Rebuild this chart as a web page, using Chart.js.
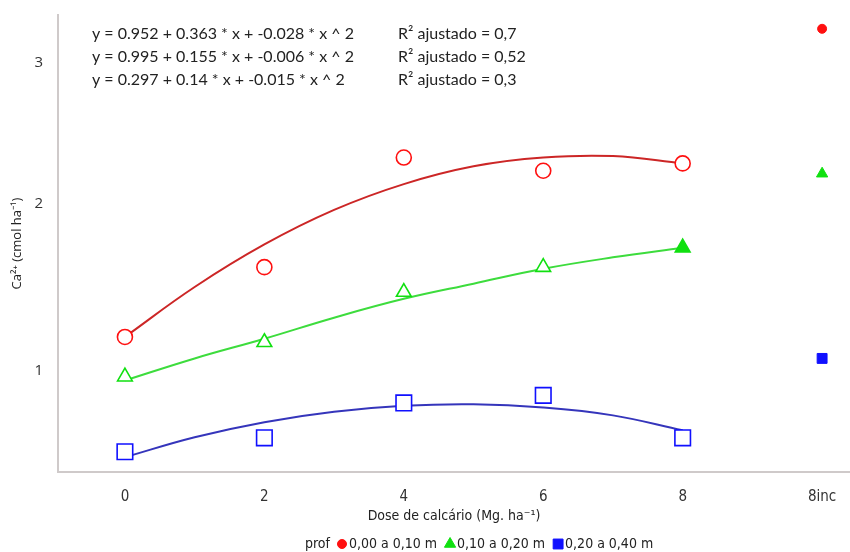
<!DOCTYPE html>
<html>
<head>
<meta charset="utf-8">
<script src="https://cdn.jsdelivr.net/npm/chart.js@4/dist/chart.umd.min.js"></script>
<style>
  html, body { margin: 0; padding: 0; background: #fff; overflow: hidden; }
  #wrap { position: relative; width: 850px; height: 552px; }
  #caChart { display: block; }
</style>
</head>
<body>
<div id="wrap"><canvas id="caChart"></canvas></div>
<script>
// === DATA ===
const doses = [0, 2, 4, 6, 8];
const incPos = 10; // where "8inc" sits on the x axis
const tickVals = [0, 2, 4, 6, 8, 10];
const tickNames = ['0', '2', '4', '6', '8', '8inc'];
const yTicks = [1, 2, 3];

const ca010 = [1.19, 1.60, 2.31, 2.22, 2.27];
const ca1020 = [0.97, 1.16, 1.45, 1.60, 1.72];
const ca2040 = [0.58, 0.65, 0.83, 0.87, 0.65];
const caInc = [3.26, 2.20, 1.07]; // 0-10, 10-20, 20-40 for 8inc

// fitted curves
const fitX = [0, 1, 2, 3, 4, 5, 6, 7, 8];
const fit010 = [1.19, 1.48, 1.74, 1.96, 2.13, 2.25, 2.31, 2.32, 2.27];
const fit1020 = [0.95, 1.07, 1.18, 1.30, 1.41, 1.50, 1.59, 1.66, 1.72];
const fit2040 = [0.553, 0.653, 0.730, 0.784, 0.815, 0.823, 0.806, 0.765, 0.688];

const equations = [
  'y = 0.952 + 0.363 * x + -0.028 * x ^ 2',
  'y = 0.995 + 0.155 * x + -0.006 * x ^ 2',
  'y = 0.297 + 0.14 * x + -0.015 * x ^ 2'
];
const r2Labels = ['R² ajustado = 0,7', 'R² ajustado = 0,52', 'R² ajustado = 0,3'];
const depthNames = ['0,00 a 0,10 m', '0,10 a 0,20 m', '0,20 a 0,40 m'];

const RED = '#ff1010', GREEN = '#10e010', BLUE = '#1010ff';
const RED_LINE = '#cc2626', GREEN_LINE = '#3ddc3d', BLUE_LINE = '#3535bb';
const NARROW = "'Liberation Sans Narrow', 'DejaVu Sans Condensed', 'Roboto Condensed', sans-serif";

// y axis is not linear: spacing follows ln(v + 4)
const SHIFT = 4;
class ShiftLogScale extends Chart.LinearScale {
  static id = 'shiftlog';
  static defaults = Chart.LinearScale.defaults;
  tf(v) { return Math.log(v + SHIFT); }
  configure() {
    super.configure();
    this._tStart = this.tf(this.min);
    this._tRange = this.tf(this.max) - this._tStart;
  }
  getPixelForValue(v) {
    if (v === null || v === undefined) return NaN;
    return this.getPixelForDecimal((this.tf(v) - this._tStart) / this._tRange);
  }
  getValueForPixel(p) {
    return Math.exp(this.getDecimalForPixel(p) * this._tRange + this._tStart) - SHIFT;
  }
}
Chart.register(ShiftLogScale);

const pts = (xs, ys) => xs.map((x, i) => ({ x: x, y: ys[i] }));

// no extra room for overflowing tick labels
const noPad = s => { s.paddingLeft = 0; s.paddingRight = 0; s.paddingTop = 0; s.paddingBottom = 0; };

// equations, R² and the legend row
const textPlugin = {
  id: 'textPlugin',
  afterDraw(chart) {
    const ctx = chart.ctx;
    ctx.save();
    ctx.fillStyle = '#222';
    ctx.font = "16px Lato, 'Open Sans', sans-serif";
    ctx.textBaseline = 'middle';
    ctx.textAlign = 'left';
    equations.forEach((t, i) => ctx.fillText(t, 92, 34 + i * 23));
    r2Labels.forEach((t, i) => ctx.fillText(t, 398, 34 + i * 23));

    // legend
    ctx.font = '14px ' + NARROW;
    const y = 544;
    const markers = [
      { style: 'circle', r: 4.5, c: RED },
      { style: 'triangle', r: 6.5, c: GREEN },
      { style: 'rect', r: 7, c: BLUE }
    ];
    let x = 305;
    ctx.fillStyle = '#222';
    ctx.fillText('prof', x, y);
    x += ctx.measureText('prof').width + 8;
    markers.forEach((m, i) => {
      ctx.fillStyle = m.c;
      ctx.strokeStyle = m.c;
      ctx.lineWidth = 1;
      Chart.helpers.drawPoint(ctx, { pointStyle: m.style, radius: m.r, rotation: 0, borderWidth: 1 }, x + 4, y);
      x += 11;
      ctx.fillStyle = '#222';
      ctx.fillText(depthNames[i], x, y);
      x += ctx.measureText(depthNames[i]).width + 9;
    });
    ctx.restore();
  }
};

const ctx = document.getElementById('caChart').getContext('2d');
new Chart(ctx, {
  type: 'scatter',
  data: {
    datasets: [
      { label: 'fit 0-10', data: pts(fitX, fit010), showLine: true, borderColor: RED_LINE, borderWidth: 2,
        pointRadius: 0, tension: 0.4, order: 5 },
      { label: 'fit 10-20', data: pts(fitX, fit1020), showLine: true, borderColor: GREEN_LINE, borderWidth: 2,
        pointRadius: 0, tension: 0.4, order: 5 },
      { label: 'fit 20-40', data: pts(fitX, fit2040), showLine: true, borderColor: BLUE_LINE, borderWidth: 2,
        pointRadius: 0, tension: 0.4, order: 5 },
      { label: depthNames[0], data: pts(doses, ca010), pointStyle: 'circle', pointRadius: 7.5,
        pointBorderColor: RED, pointBackgroundColor: '#fff', pointBorderWidth: 1.6, order: 1 },
      { label: depthNames[1], data: pts(doses, ca1020), pointStyle: 'triangle', pointRadius: 8.5,
        pointBorderColor: GREEN, pointBorderWidth: 1.6, order: 1,
        pointBackgroundColor: ['#fff', '#fff', '#fff', '#fff', GREEN] },
      { label: depthNames[2], data: pts(doses, ca2040), pointStyle: 'rect', pointRadius: 11,
        pointBorderColor: BLUE, pointBackgroundColor: '#fff', pointBorderWidth: 1.6, order: 1 },
      { label: 'inc', data: pts([incPos, incPos, incPos], caInc),
        pointStyle: ['circle', 'triangle', 'rect'], pointRadius: [4.5, 6.5, 7],
        pointBackgroundColor: [RED, GREEN, BLUE], pointBorderColor: [RED, GREEN, BLUE],
        pointBorderWidth: 1, order: 1 }
    ]
  },
  options: {
    responsive: true,
    maintainAspectRatio: false,
    animation: false,
    layout: { autoPadding: false, padding: { left: 0, right: 0, top: 15, bottom: 22 } },
    plugins: { legend: { display: false }, tooltip: { enabled: false } },
    scales: {
      x: {
        type: 'linear', min: -0.96, max: 10.4,
        afterBuildTicks: s => { s.ticks = tickVals.map(v => ({ value: v })); },
        afterFit: s => { s.height = 58; noPad(s); },
        grid: { display: false, drawTicks: false },
        border: { display: true, color: '#cfcaca', width: 2 },
        ticks: {
          padding: 16, color: '#333', font: { size: 15, family: NARROW },
          maxRotation: 0, autoSkip: false,
          callback: v => tickNames[tickVals.indexOf(v)]
        },
        title: {
          display: true, text: 'Dose de calcário (Mg. ha⁻¹)', color: '#222',
          font: { size: 14, family: NARROW }, padding: { top: 0, bottom: 5 }
        }
      },
      y: {
        type: 'shiftlog', min: 0.48, max: 3.37,
        afterBuildTicks: s => { s.ticks = yTicks.map(v => ({ value: v })); },
        afterFit: s => { s.width = 58; noPad(s); },
        grid: { display: false, drawTicks: false },
        border: { display: true, color: '#cfcaca', width: 2 },
        ticks: { padding: 15, color: '#333', font: { size: 15, family: "'Open Sans', sans-serif" },
          callback: v => String(v) },
        title: {
          display: true, text: 'Ca²⁺ (cmol ha⁻¹)', color: '#222',
          font: { size: 13, family: "'Open Sans', sans-serif" }, padding: { top: 9, bottom: 0 }
        }
      }
    }
  },
  plugins: [textPlugin]
});
</script>
</body>
</html>
